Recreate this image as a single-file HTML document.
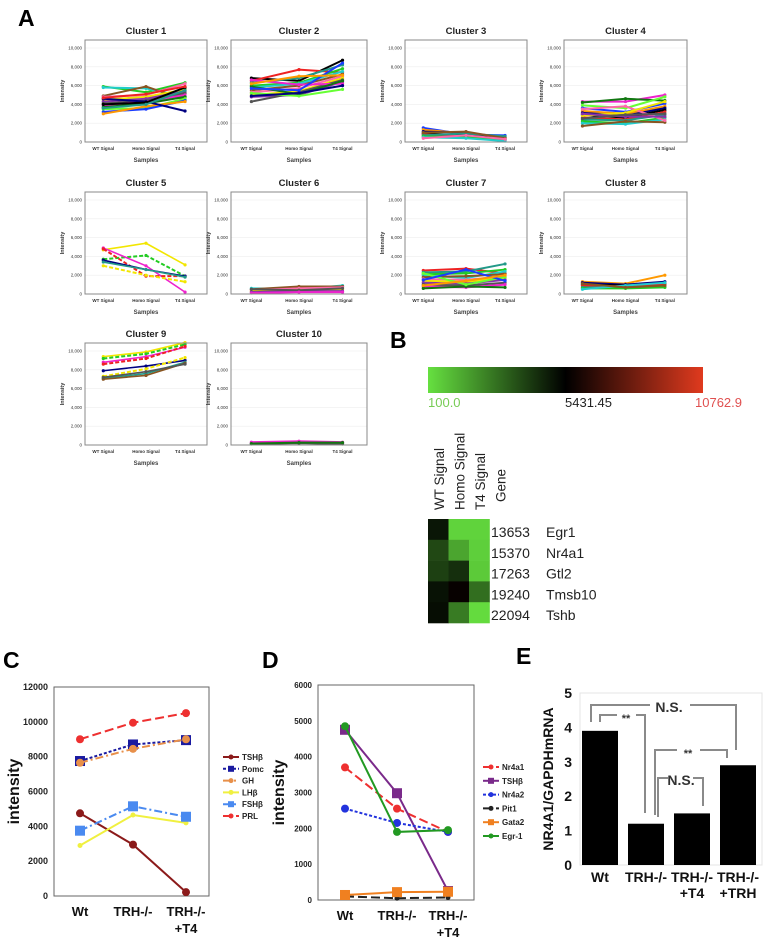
<!DOCTYPE html>
<html><head><meta charset="utf-8"><style>
html,body{margin:0;padding:0;background:#fff;}
svg{display:block;font-family:"Liberation Sans",Arial,sans-serif;}
</style></head><body>
<svg id="fig" width="766" height="941" viewBox="0 0 766 941" xmlns="http://www.w3.org/2000/svg"></svg>
<script>
// ---------- Panel A data (cluster profiles: WT, Homo, T4) ----------
const clusterSamples = ["WT Signal","Homo Signal","T4 Signal"];
const c1 = [[5900,5300,6300],[5800,5700,4800],[4900,5900,4500],[4800,5000,6200],[4500,4800,5600],[4300,4600,5400],[4100,4400,5200],[3900,4300,5000],[3700,4100,4800],[3500,3600,4600],[3200,3500,4400],[3000,3800,4300],[4600,4300,3300],[4000,4200,5800],[4700,5100,5900],[3600,4000,5500]];
const c2 = [[6800,6500,8700],[6500,7700,7400],[6300,6800,8200],[6000,6300,7800],[5800,6200,7500],[5500,6000,7200],[5300,5700,7000],[5000,5400,6800],[4800,5000,6400],[4300,5300,6600],[6600,6100,6200],[5900,5100,6500],[5200,4900,5600],[5700,5500,8400],[6200,7000,7100],[4900,5200,6000]];
const c3 = [[1500,800,700],[1300,900,400],[1100,1000,300],[900,700,500],[800,600,200],[700,900,600],[600,500,300],[500,400,100],[1000,1100,400],[400,700,300]];
const c4 = [[4300,4300,5000],[4200,4600,4400],[3900,3600,4800],[3600,3200,4100],[3300,3000,3800],[3100,2800,3600],[2900,2600,3400],[2600,2400,3200],[2400,2300,2900],[2200,2000,2600],[2000,1900,2400],[1700,2200,2100],[3500,3800,2300],[2800,3100,4300],[3000,2700,2700],[2500,2900,3000]];
const c5 = [[4700,5400,3100],[3700,4100,1900],[4900,3000,200],[4800,1900,1900],[3600,2600,1900],[3000,2000,1300],[3400,2600,1800]];
const c6 = [[600,500,900],[500,800,800],[400,600,700],[300,400,500],[200,300,300],[500,400,600],[100,200,200]];
const c7 = [[2500,2700,2200],[2300,2400,3200],[2100,2200,2600],[2000,1700,2400],[1800,1900,2100],[1600,1500,1900],[1400,1300,1700],[1200,1100,1500],[1000,900,1200],[800,700,1000],[600,800,700],[2200,1000,1800],[1500,2600,1400],[900,1400,2000]];
const c8 = [[1300,1100,2000],[1200,1000,1300],[1000,900,1100],[900,800,1000],[700,700,800],[600,600,700],[500,900,1200],[1100,700,900]];
const c9 = [[9400,9900,10900],[9200,9700,10700],[8800,9400,10400],[8600,9200,10500],[7900,8400,9000],[7300,8100,9300],[7100,7600,8800],[7000,7400,8700],[7200,7800,8600]];
const c10 = [[200,300,200],[100,200,100],[300,400,300],[150,250,250]];
const clusterTicks = ["0","2,000","4,000","6,000","8,000","10,000"];
// ---------- Panel B data ----------
const heatGenes = ["Egr1","Nr4a1","Gtl2","Tmsb10","Tshb"];
const heatIds = ["13653","15370","17263","19240","22094"];
const heatCols = ["WT Signal","Homo Signal","T4 Signal"];
const heatWT = [4900,3700,3900,5000,5100];
const heatHomo = [400,1500,4300,5600,2500];
const heatT4 = [400,500,600,2800,200];
// ---------- Panel C data ----------
const cCats = ["Wt","TRH-/-","TRH-/-|+T4"];
const cTSHb = [4750,2950,220];
const cPomc = [7750,8700,8950];
const cGH = [7650,8450,9000];
const cLHb = [2900,4650,4200];
const cFSHb = [3750,5150,4550];
const cPRL = [9000,9950,10500];
const cTicks = [0,2000,4000,6000,8000,10000,12000];
// ---------- Panel D data ----------
const dNr4a1 = [3700,2550,1900];
const dTSHb = [4750,2980,250];
const dNr4a2 = [2550,2150,1900];
const dPit1 = [100,50,70];
const dGata2 = [140,220,230];
const dEgr1 = [4850,1900,1950];
const dTicks = [0,1000,2000,3000,4000,5000,6000];
// ---------- Panel E data ----------
const eCats = ["Wt","TRH-/-","TRH-/-|+T4","TRH-/-|+TRH"];
const eValues = [3.9,1.2,1.5,2.9];
const eTicks = [0,1,2,3,4,5];

const svg = document.getElementById('fig');
const NS = "http://www.w3.org/2000/svg";
function mk(tag, attrs, parent){const e=document.createElementNS(NS,tag);for(const k in attrs)e.setAttribute(k,attrs[k]);(parent||svg).appendChild(e);return e;}
function txt(s, attrs, parent){const e=mk('text',attrs,parent);e.textContent=s;return e;}

[["A",18,26],["B",390,348],["C",3,668],["D",262,668],["E",516,664]].forEach(p=>{
  const t=txt(p[0],{x:p[1],y:p[2],'font-size':23,'font-weight':'bold',fill:'#000'});
  
  
});

// ---------- Panel A ----------
const palette = ["#22cc22","#000000","#1a3cff","#ee22cc","#f2e600","#22cccc","#ee2222","#ff9900","#117711","#8833aa","#885522","#229988","#000080","#66ff33","#555555","#ff66aa"];
const colX = [85,231,405,564], colW = [122,136,122,123];
const rowTop = [40,192,343];
const clusters = [c1,c2,c3,c4,c5,c6,c7,c8,c9,c10];
clusters.forEach((series,i)=>{
  const r=Math.floor(i/4), c=i%4;
  const x0=colX[c], w=colW[c], top=rowTop[r], h=102;
  const g=mk('g',{});
  
  
  const yS=v=>top+h-v/10000*94;
  const xS=k=>x0+w*[0.15,0.5,0.82][k];
  const t=txt('Cluster '+(i+1),{x:x0+w/2,y:top-6,'text-anchor':'middle','font-size':9.5,'font-weight':'bold',fill:'#222'},g);
  
  
  clusterTicks.forEach((lab,k)=>{
    const y=yS(k*2000);
    if(k>0) mk('line',{x1:x0,x2:x0+w,y1:y,y2:y,stroke:'#eee','stroke-width':0.6},g);
    const tl=txt(lab,{x:x0-3,y:y+1.5,'text-anchor':'end','font-size':4.5,fill:'#333'},g);
    
    
  });
  const special=(i===4||i===8);
  series.forEach((s,j)=>{
    const col=special?palette[[4,0,3,6,12,4,11,10,14][j]]:palette[(j*5+i)%palette.length];
    const pts=s.map((v,k)=>xS(k)+','+yS(v)).join(' ');
    const dashed=special&&(j===1||j===3||j===5);
    const pl=mk('polyline',{points:pts,fill:'none',stroke:col,'stroke-width':dashed?2:(special?1.6:2),'stroke-dasharray':dashed?'4,2':'none'},g);
    
    
    s.forEach((v,k)=>mk('circle',{cx:xS(k),cy:yS(v),r:1.6,fill:col},g));
  });
  mk('rect',{x:x0,y:top,width:w,height:h,fill:'none',stroke:'#888','stroke-width':1},g);
  clusterSamples.forEach((s,k)=>{
    const tl=txt(s,{x:xS(k),y:top+h+8,'text-anchor':'middle','font-size':4.5,'font-weight':'bold',fill:'#333'},g);
    
    
  });
  const sa=txt('Samples',{x:x0+w/2,y:top+h+20,'text-anchor':'middle','font-size':6,'font-weight':'bold',fill:'#444'},g);
  
  
  const ia=txt('Intensity',{x:0,y:0,'text-anchor':'middle','font-size':5.5,'font-weight':'bold',fill:'#333',transform:`translate(${x0-21},${top+h/2}) rotate(-90)`},g);
  
  
});

// ---------- Panel B ----------
const gB=mk('g',{});


const defs=mk('defs',{});
const lg=mk('linearGradient',{id:'cbar',x1:0,x2:1,y1:0,y2:0},defs);
mk('stop',{offset:'0','stop-color':'#66e040'},lg);
mk('stop',{offset:'0.5','stop-color':'#000'},lg);
mk('stop',{offset:'1','stop-color':'#e03a1e'},lg);
const cb=mk('rect',{x:428,y:367,width:275,height:26,fill:'url(#cbar)'},gB);


[["100.0",428,'start','#77cc55'],["5431.45",565,'start','#222'],["10762.9",742,'end','#e05050']].forEach(a=>{
  const t=txt(a[0],{x:a[1],y:407,'text-anchor':a[2],'font-size':13,fill:a[3]},gB);
  
  
});
function heatColor(v){
  const t=Math.max(0,Math.min(1,(v-100)/(10762.9-100)));
  let r,g,b;
  if(t<0.5){const f=1-t*2;r=0x66*f;g=0xe0*f;b=0x40*f;}
  else{const f=(t-0.5)*2;r=0xe0*f;g=0x3a*f;b=0x1e*f;}
  return `rgb(${r|0},${g|0},${b|0})`;
}
const heatColsData=[heatWT,heatHomo,heatT4];
heatCols.concat(["Gene"]).forEach((h,k)=>{
  const t=txt(h,{x:0,y:0,'font-size':13.5,fill:'#222',transform:`translate(${444+k*20.5},${k===3?502:510}) rotate(-90)`},gB);
  
  
});
heatGenes.forEach((gn,r)=>{
  heatColsData.forEach((arr,k)=>{
    const c=mk('rect',{x:428+k*20.5,y:519+r*20.8,width:20.8,height:21.1,fill:heatColor(arr[r])},gB);
    
    
  });
  const a=txt(heatIds[r],{x:491,y:537+r*20.8,'font-size':14,fill:'#222'},gB);
  
  
  const b=txt(gn,{x:546,y:537+r*20.8,'font-size':14,fill:'#222'},gB);
  
  
});

// ---------- generic line chart ----------
function lineChart(o){
  const g=mk('g',{});
  
  
  const yS=v=>o.y1-(v/o.max)*(o.y1-o.y0);
  mk('rect',{x:o.x0,y:o.y0,width:o.x1-o.x0,height:o.y1-o.y0,fill:'none',stroke:'#666','stroke-width':1},g);
  o.ticks.forEach(v=>{
    const t=txt(String(v),{x:o.x0-6,y:yS(v)+3,'text-anchor':'end','font-size':o.tickFs,'font-weight':'bold',fill:'#222'},g);
    
    
  });
  const ya=txt('intensity',{x:0,y:0,'text-anchor':'middle','font-size':16,'font-weight':'bold',fill:'#111',transform:`translate(${o.yLabX},${(o.y0+o.y1)/2}) rotate(-90)`},g);
  
  
  cCats.forEach((c,k)=>{
    c.split('|').forEach((ln,li)=>{
      const t=txt(ln,{x:o.cx[k],y:o.labY+li*17,'text-anchor':'middle','font-size':13,'font-weight':'bold',fill:'#111'},g);
      
      
    });
  });
  o.series.forEach((s,j)=>{
    const pts=s.data.map((v,k)=>o.cx[k]+','+yS(v)).join(' ');
    const pl=mk('polyline',{points:pts,fill:'none',stroke:s.color,'stroke-width':2,'stroke-dasharray':s.dash},g);
    
    
    s.data.forEach((v,k)=>{
      const m=s.marker==='sq'?mk('rect',{x:o.cx[k]-5,y:yS(v)-5,width:10,height:10,fill:s.color},g):mk('circle',{cx:o.cx[k],cy:yS(v),r:s.marker==='sm'?2.5:4,fill:s.color},g);
      
      
    });
    const ly=o.legY+j*o.legStep;
    const le=mk('g',{},g);
    
    
    mk('line',{x1:o.legX,x2:o.legX+16,y1:ly,y2:ly,stroke:s.color,'stroke-width':2,'stroke-dasharray':s.dash},le);
    mk(s.marker==='sq'?'rect':'circle',s.marker==='sq'?{x:o.legX+5,y:ly-3,width:6,height:6,fill:s.color}:{cx:o.legX+8,cy:ly,r:2.5,fill:s.color},le);
    txt(s.label,{x:o.legX+19,y:ly+3,'font-size':8,'font-weight':'bold',fill:'#222'},le);
  });
}
lineChart({name:'panel-c-line-chart',x0:54,x1:209,y0:687,y1:896,max:12000,ticks:cTicks,tickFs:9,yLabX:19,cx:[80,133,186],labY:916,legX:223,legY:757,legStep:11.8,
  series:[
    {label:'TSHβ',data:cTSHb,color:'#8b1a1a',dash:'none',marker:'c'},
    {label:'Pomc',data:cPomc,color:'#1a1aa0',dash:'3,2',marker:'sq'},
    {label:'GH',data:cGH,color:'#e8904a',dash:'8,3,2,3',marker:'c'},
    {label:'LHβ',data:cLHb,color:'#f0f040',dash:'none',marker:'sm'},
    {label:'FSHβ',data:cFSHb,color:'#4a8af0',dash:'8,3,2,3',marker:'sq'},
    {label:'PRL',data:cPRL,color:'#ee3030',dash:'9,4',marker:'c'}]});
lineChart({name:'panel-d-line-chart',x0:318,x1:474,y0:685,y1:900,max:6000,ticks:dTicks,tickFs:8,yLabX:284,cx:[345,397,448],labY:920,legX:483,legY:767,legStep:13.8,
  series:[
    {label:'Nr4a1',data:dNr4a1,color:'#ee3030',dash:'9,4',marker:'c'},
    {label:'TSHβ',data:dTSHb,color:'#7a2a8a',dash:'none',marker:'sq'},
    {label:'Nr4a2',data:dNr4a2,color:'#2233dd',dash:'3,2',marker:'c'},
    {label:'Pit1',data:dPit1,color:'#222',dash:'9,4',marker:'sm'},
    {label:'Gata2',data:dGata2,color:'#f08020',dash:'none',marker:'sq'},
    {label:'Egr-1',data:dEgr1,color:'#229922',dash:'none',marker:'c'}]});

// ---------- Panel E ----------
const gE=mk('g',{});


const eY0=865, eY1=693;
const eYS=v=>eY0-v/5*(eY0-eY1);
mk('rect',{x:580,y:eY1,width:182,height:eY0-eY1,fill:'none',stroke:'#e4e4e4','stroke-width':1},gE);
eTicks.forEach(v=>{
  const t=txt(String(v),{x:572,y:eYS(v)+5,'text-anchor':'end','font-size':14,'font-weight':'bold',fill:'#111'},gE);
  
  
});
const eyl=txt('NR4A1/GAPDHmRNA',{x:0,y:0,'text-anchor':'middle','font-size':14,'font-weight':'bold',fill:'#111',transform:`translate(553,779) rotate(-90)`},gE);


const eCx=[600,646,692,738];
eValues.forEach((v,k)=>{
  const b=mk('rect',{x:eCx[k]-18,y:eYS(v),width:36,height:eY0-eYS(v),fill:'#000'},gE);
  
  
  eCats[k].split('|').forEach((ln,li)=>{
    const t=txt(ln,{x:eCx[k],y:882+li*16,'text-anchor':'middle','font-size':14,'font-weight':'bold',fill:'#111'},gE);
    
    
  });
});
const br=[
  ['M591,722 V705 H650','M690,705 H736 V750','N.S.',669,712,14],
  ['M600,722 V715 H617','M636,715 H645 V813','**',626,722,11],
  ['M655,815 V750 H677','M700,750 H727 V758','**',688,757,11],
  ['M658,817 V778 H668','M693,778 H703 V806','N.S.',681,785,14]];
br.forEach(b=>{
  const gg=mk('g',{},gE);
  
  
  mk('path',{d:b[0],fill:'none',stroke:'#8a8a8a','stroke-width':2},gg);
  mk('path',{d:b[1],fill:'none',stroke:'#8a8a8a','stroke-width':2},gg);
  txt(b[2],{x:b[3],y:b[4],'text-anchor':'middle','font-size':b[5],'font-weight':'bold',fill:'#333'},gg);
});
</script>
</body></html>
